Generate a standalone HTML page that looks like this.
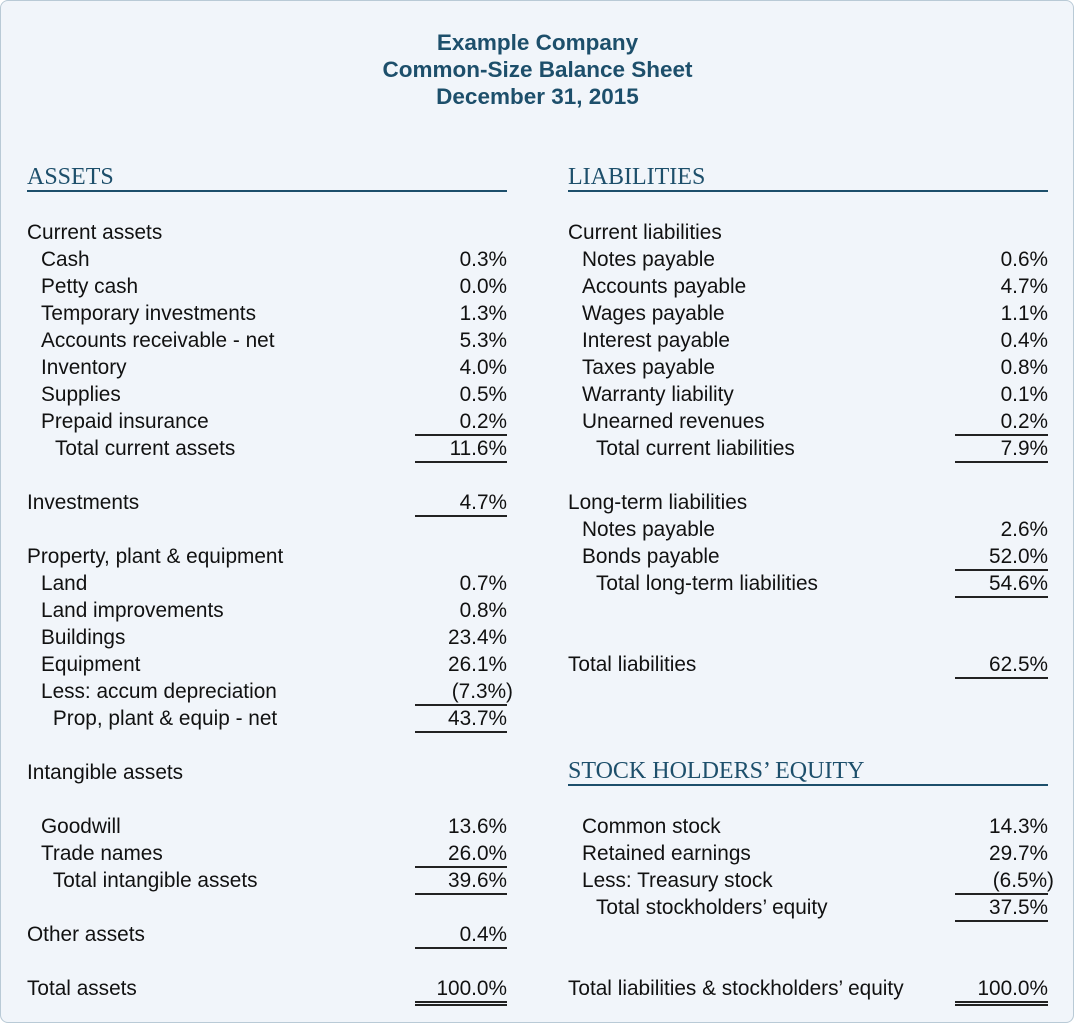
<!DOCTYPE html>
<html><head><meta charset="utf-8"><style>
body{margin:0;width:1075px;height:1024px;overflow:hidden;background:#fff;}
#card{position:absolute;left:0;top:0;width:1072px;height:1021px;border:1.5px solid #b9cad6;border-radius:8px;background:#f1f5fa;}
.t{position:absolute;font-family:"Liberation Sans",sans-serif;font-size:20.8px;color:#111;white-space:nowrap;line-height:24px;}
.v{text-align:right;}
.title{position:absolute;left:0;width:1075px;text-align:center;font-family:"Liberation Sans",sans-serif;font-weight:bold;font-size:22.5px;color:#1d4f6b;line-height:26px;}
.h{position:absolute;font-family:"Liberation Serif",serif;font-size:24px;color:#1d4f6b;line-height:26px;}
.hl{position:absolute;height:2px;background:#1d4f6b;}
.ln{position:absolute;height:1.5px;background:#222;}
</style></head><body>
<div id="card"></div>
<div class="title" style="top:30px">Example Company</div>
<div class="title" style="top:57px">Common-Size Balance Sheet</div>
<div class="title" style="top:84px">December 31, 2015</div>
<div id="root"></div>
<script>
const root=document.getElementById('root');
const headers=[["ASSETS",27,177,480],["LIABILITIES",568,177,480],["STOCK HOLDERS’ EQUITY",568,771,480]];
// [centerY, label, indentLevel, value]
const leftRows=[
[231,"Current assets",0,""],[258,"Cash",1,"0.3%"],[285,"Petty cash",1,"0.0%"],[312,"Temporary investments",1,"1.3%"],
[339,"Accounts receivable - net",1,"5.3%"],[366,"Inventory",1,"4.0%"],[393,"Supplies",1,"0.5%"],[420,"Prepaid insurance",1,"0.2%"],
[447,"Total current assets",2,"11.6%"],[501,"Investments",0,"4.7%"],[555,"Property, plant & equipment",0,""],
[582,"Land",1,"0.7%"],[609,"Land improvements",1,"0.8%"],[636,"Buildings",1,"23.4%"],[663,"Equipment",1,"26.1%"],
[690,"Less: accum depreciation",1,"(7.3%)"],[717,"Prop, plant & equip - net",1.85,"43.7%"],[771,"Intangible assets",0,""],
[825,"Goodwill",1,"13.6%"],[852,"Trade names",1,"26.0%"],[879,"Total intangible assets",1.85,"39.6%"],
[933,"Other assets",0,"0.4%"],[987,"Total assets",0,"100.0%"]];
const rightRows=[
[231,"Current liabilities",0,""],[258,"Notes payable",1,"0.6%"],[285,"Accounts payable",1,"4.7%"],[312,"Wages payable",1,"1.1%"],
[339,"Interest payable",1,"0.4%"],[366,"Taxes payable",1,"0.8%"],[393,"Warranty liability",1,"0.1%"],[420,"Unearned revenues",1,"0.2%"],
[447,"Total current liabilities",2,"7.9%"],[501,"Long-term liabilities",0,""],[528,"Notes payable",1,"2.6%"],[555,"Bonds payable",1,"52.0%"],
[582,"Total long-term liabilities",2,"54.6%"],[663,"Total liabilities",0,"62.5%"],
[825,"Common stock",1,"14.3%"],[852,"Retained earnings",1,"29.7%"],[879,"Less: Treasury stock",1,"(6.5%)"],
[906,"Total stockholders’ equity",2,"37.5%"],[987,"Total liabilities & stockholders’ equity",0,"100.0%"]];
const leftLines=[434,461,515,704,731,866,893,947,1001,1004];
const rightLines=[434,461,569,596,677,893,920,1001,1004];
function slug(s){return s.toLowerCase().replace(/[^a-z0-9]+/g,'-').replace(/^-|-$/g,'');}
headers.forEach(h=>{
 const d=document.createElement('div');d.className='h';d.style.left=h[1]+'px';d.style.top=(h[2]-13)+'px';d.textContent=h[0];
 
 
 root.appendChild(d);
 const l=document.createElement('div');l.className='hl';l.style.left=h[1]+'px';l.style.width=h[3]+'px';l.style.top=(h[2]+13)+'px';
 
 
 root.appendChild(l);
});
function rows(arr,x0,right,side){
 arr.forEach(r=>{
  const d=document.createElement('div');d.className='t';d.style.left=(x0+r[2]*14)+'px';d.style.top=(r[0]-10)+'px';d.textContent=r[1];
  
  
  root.appendChild(d);
  if(r[3]){
   const v=document.createElement('div');v.className='t v';
   const paren=r[3].startsWith('(');
   v.style.right=(1075-right-(paren?6:0))+'px';v.style.top=(r[0]-10)+'px';v.textContent=r[3];
   
   
   root.appendChild(v);
  }
 });
}
function lines(arr,x0,x1,side){
 arr.forEach(y=>{
  const l=document.createElement('div');l.className='ln';l.style.left=x0+'px';l.style.width=(x1-x0)+'px';l.style.top=y+'px';
  
  
  root.appendChild(l);
 });
}
rows(leftRows,27,507,'assets');rows(rightRows,568,1048,'liabilities');
lines(leftLines,415,507,'assets');lines(rightLines,955,1048,'liabilities');
</script>
</body></html>
